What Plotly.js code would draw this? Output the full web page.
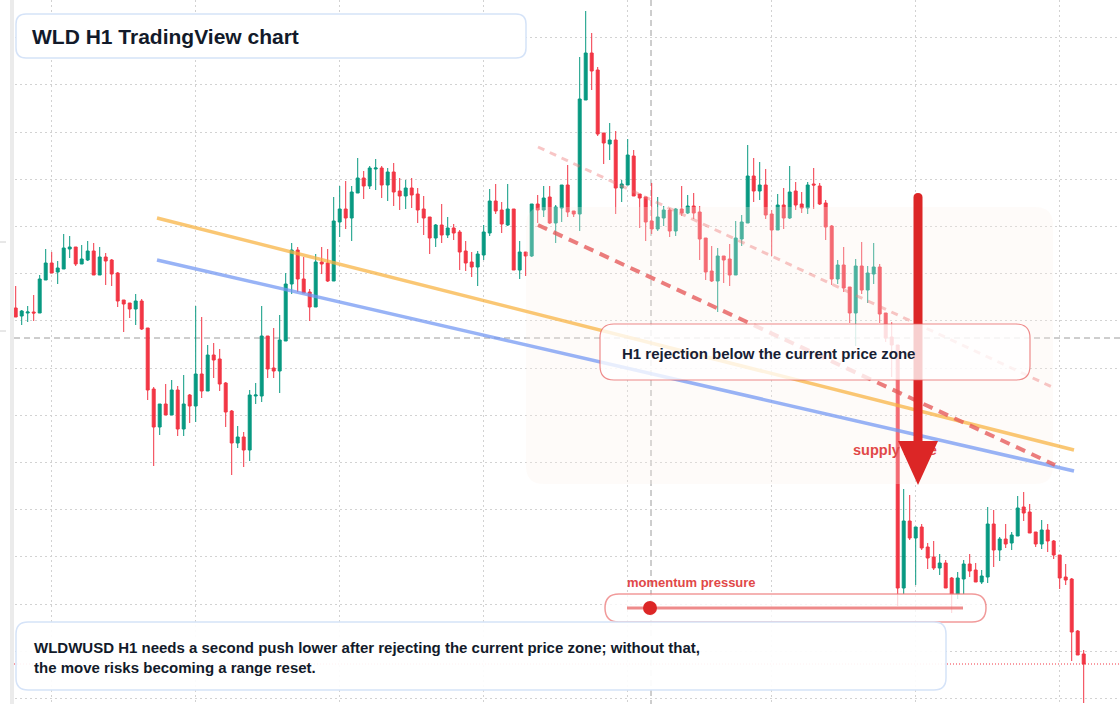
<!DOCTYPE html>
<html>
<head>
<meta charset="utf-8">
<script src="https://cdn.plot.ly/plotly-3.0.1.min.js"></script>
<style>html,body{margin:0;padding:0;background:#fff;}#chart{width:1120px;height:704px;}</style>
</head>
<body>
<div id="chart"></div>
<script>
// ---- WLD H1 candles (price) ----
const open = [
0.5492,0.5484,0.5487,0.5488,0.5487,0.5520,0.5537,0.5528,0.5531,0.5551,
0.5553,0.5536,0.5540,0.5549,0.5525,0.5543,0.5540,0.5527,0.5500,0.5497,
0.5491,0.5499,0.5472,0.5411,0.5373,0.5396,0.5385,0.5410,0.5371,0.5405,
0.5394,0.5426,0.5409,0.5445,0.5441,0.5417,0.5389,0.5357,0.5363,0.5350,
0.5404,0.5404,0.5464,0.5432,0.5429,0.5459,0.5516,0.5550,0.5521,0.5508,
0.5493,0.5538,0.5537,0.5519,0.5578,0.5591,0.5582,0.5607,0.5622,0.5614,
0.5631,0.5632,0.5615,0.5628,0.5609,0.5604,0.5612,0.5606,0.5591,0.5583,
0.5562,0.5575,0.5565,0.5572,0.5568,0.5549,0.5538,0.5533,0.5545,0.5567,
0.5599,0.5590,0.5575,0.5591,0.5530,0.5548,0.5544,0.5596,0.5590,0.5603,
0.5577,0.5592,0.5615,0.5589,0.5586,0.5700,0.5747,0.5730,0.5667,0.5656,
0.5660,0.5612,0.5615,0.5644,0.5606,0.5603,0.5579,0.5571,0.5582,0.5590,
0.5569,0.5591,0.5587,0.5594,0.5588,0.5562,0.5529,0.5519,0.5544,0.5541,
0.5525,0.5561,0.5577,0.5624,0.5609,0.5615,0.5586,0.5570,0.5595,0.5582,
0.5609,0.5596,0.5592,0.5616,0.5614,0.5597,0.5574,0.5521,0.5535,0.5513,
0.5487,0.5534,0.5510,0.5526,0.5533,0.5487,0.5463,0.5455,0.5212,0.5279,
0.5262,0.5273,0.5253,0.5243,0.5232,0.5237,0.5222,0.5206,0.5221,0.5236,
0.5230,0.5218,0.5223,0.5276,0.5250,0.5261,0.5257,0.5264,0.5293,0.5288,
0.5268,0.5256,0.5270,0.5259,0.5245,0.5223,0.5221,0.5169,0.5146];
const high = [
0.5514,0.5490,0.5494,0.5505,0.5525,0.5551,0.5548,0.5539,0.5566,0.5564,
0.5553,0.5555,0.5559,0.5557,0.5553,0.5547,0.5541,0.5528,0.5500,0.5497,
0.5506,0.5501,0.5472,0.5413,0.5396,0.5416,0.5420,0.5414,0.5425,0.5406,
0.5494,0.5483,0.5455,0.5457,0.5451,0.5418,0.5390,0.5374,0.5368,0.5410,
0.5417,0.5494,0.5464,0.5472,0.5485,0.5527,0.5557,0.5553,0.5543,0.5511,
0.5546,0.5553,0.5551,0.5603,0.5614,0.5619,0.5614,0.5642,0.5629,0.5634,
0.5641,0.5634,0.5632,0.5637,0.5622,0.5620,0.5622,0.5612,0.5604,0.5583,
0.5576,0.5596,0.5583,0.5576,0.5570,0.5559,0.5548,0.5549,0.5575,0.5611,
0.5616,0.5598,0.5616,0.5591,0.5559,0.5548,0.5596,0.5605,0.5614,0.5614,
0.5595,0.5615,0.5635,0.5589,0.5743,0.5789,0.5767,0.5733,0.5667,0.5677,
0.5669,0.5620,0.5661,0.5650,0.5606,0.5603,0.5617,0.5603,0.5594,0.5592,
0.5592,0.5614,0.5605,0.5607,0.5594,0.5562,0.5554,0.5552,0.5544,0.5556,
0.5579,0.5585,0.5655,0.5642,0.5638,0.5631,0.5590,0.5606,0.5612,0.5634,
0.5618,0.5608,0.5618,0.5632,0.5617,0.5600,0.5575,0.5540,0.5553,0.5513,
0.5541,0.5558,0.5534,0.5557,0.5536,0.5487,0.5478,0.5455,0.5311,0.5305,
0.5273,0.5276,0.5257,0.5259,0.5246,0.5240,0.5223,0.5228,0.5240,0.5246,
0.5237,0.5230,0.5293,0.5290,0.5263,0.5276,0.5268,0.5304,0.5308,0.5296,
0.5268,0.5280,0.5276,0.5260,0.5245,0.5236,0.5222,0.5170,0.5150];
const low = [
0.5483,0.5475,0.5478,0.5479,0.5487,0.5520,0.5527,0.5516,0.5531,0.5542,
0.5534,0.5536,0.5539,0.5525,0.5525,0.5515,0.5514,0.5493,0.5468,0.5482,
0.5475,0.5470,0.5400,0.5334,0.5365,0.5385,0.5385,0.5364,0.5364,0.5377,
0.5378,0.5402,0.5409,0.5422,0.5409,0.5373,0.5325,0.5352,0.5333,0.5339,
0.5396,0.5398,0.5422,0.5422,0.5407,0.5459,0.5506,0.5508,0.5507,0.5479,
0.5493,0.5526,0.5518,0.5519,0.5563,0.5571,0.5559,0.5607,0.5601,0.5611,
0.5610,0.5602,0.5599,0.5594,0.5590,0.5591,0.5592,0.5577,0.5565,0.5546,
0.5553,0.5557,0.5562,0.5560,0.5530,0.5529,0.5523,0.5514,0.5540,0.5564,
0.5586,0.5567,0.5574,0.5530,0.5521,0.5524,0.5543,0.5577,0.5583,0.5576,
0.5557,0.5578,0.5583,0.5583,0.5569,0.5700,0.5710,0.5664,0.5636,0.5640,
0.5586,0.5598,0.5615,0.5604,0.5572,0.5559,0.5566,0.5569,0.5574,0.5563,
0.5564,0.5584,0.5586,0.5581,0.5540,0.5520,0.5518,0.5488,0.5517,0.5514,
0.5525,0.5554,0.5577,0.5598,0.5600,0.5581,0.5544,0.5570,0.5571,0.5581,
0.5590,0.5587,0.5586,0.5591,0.5595,0.5560,0.5515,0.5516,0.5508,0.5477,
0.5454,0.5506,0.5497,0.5516,0.5477,0.5458,0.5423,0.5194,0.5206,0.5260,
0.5215,0.5250,0.5231,0.5230,0.5225,0.5212,0.5187,0.5201,0.5206,0.5223,
0.5218,0.5216,0.5217,0.5233,0.5239,0.5252,0.5250,0.5264,0.5279,0.5267,
0.5253,0.5251,0.5248,0.5241,0.5211,0.5215,0.5139,0.5145,0.5097];
const close = [
0.5483,0.5489,0.5488,0.5487,0.5521,0.5537,0.5527,0.5532,0.5552,0.5553,
0.5536,0.5541,0.5549,0.5525,0.5543,0.5539,0.5526,0.5499,0.5496,0.5491,
0.5499,0.5471,0.5410,0.5373,0.5396,0.5385,0.5410,0.5371,0.5396,0.5394,
0.5426,0.5409,0.5445,0.5440,0.5416,0.5388,0.5357,0.5363,0.5350,0.5405,
0.5405,0.5464,0.5431,0.5429,0.5460,0.5516,0.5550,0.5521,0.5507,0.5493,
0.5538,0.5536,0.5519,0.5579,0.5591,0.5582,0.5608,0.5622,0.5614,0.5632,
0.5632,0.5615,0.5628,0.5608,0.5604,0.5612,0.5605,0.5590,0.5582,0.5562,
0.5575,0.5565,0.5572,0.5567,0.5548,0.5537,0.5533,0.5546,0.5568,0.5599,
0.5589,0.5576,0.5591,0.5530,0.5548,0.5544,0.5596,0.5590,0.5602,0.5577,
0.5593,0.5615,0.5588,0.5586,0.5701,0.5747,0.5729,0.5666,0.5657,0.5660,
0.5612,0.5616,0.5645,0.5604,0.5602,0.5578,0.5571,0.5583,0.5590,0.5569,
0.5591,0.5587,0.5594,0.5587,0.5561,0.5528,0.5519,0.5544,0.5540,0.5525,
0.5562,0.5578,0.5624,0.5609,0.5615,0.5585,0.5570,0.5595,0.5582,0.5608,
0.5595,0.5592,0.5615,0.5615,0.5596,0.5573,0.5521,0.5535,0.5512,0.5487,
0.5534,0.5510,0.5527,0.5533,0.5486,0.5462,0.5455,0.5212,0.5279,0.5262,
0.5273,0.5252,0.5242,0.5232,0.5237,0.5212,0.5206,0.5222,0.5236,0.5229,
0.5218,0.5224,0.5276,0.5250,0.5261,0.5256,0.5265,0.5292,0.5287,0.5267,
0.5256,0.5270,0.5259,0.5245,0.5222,0.5220,0.5168,0.5145,0.5136];

const lastPrice = 0.5136;
const crosshairPrice = 0.5462;

// text
const titleText = 'WLD H1 TradingView chart';
const rejectionText = 'H1 rejection below the current price zone';
const zoneText = 'supply zone';
const momentumText = 'momentum pressure';
const noteText = 'WLDWUSD H1 needs a second push lower after rejecting the current price zone; without that,<br>the move risks becoming a range reset.';

// hourly time axis
const HOUR = 3600000;
const T0 = Date.UTC(2025, 2, 10, 18);
const times = open.map((_, i) => T0 + i * HOUR);

// ---- layout helpers (pixel -> paper) ----
const W = 1120, H = 704;
const X = p => p / W;
const Y = p => 1 - p / H;
const FONT = 'Liberation Sans, Arial, Helvetica, sans-serif';
function rr(x0, y0, x1, y1, r) {
  const P = (x, y) => X(x).toFixed(6) + ',' + Y(y).toFixed(6);
  return 'M' + P(x0 + r, y0) + ' L' + P(x1 - r, y0) + ' Q' + P(x1, y0) + ' ' + P(x1, y0 + r) +
    ' L' + P(x1, y1 - r) + ' Q' + P(x1, y1) + ' ' + P(x1 - r, y1) +
    ' L' + P(x0 + r, y1) + ' Q' + P(x0, y1) + ' ' + P(x0, y1 - r) +
    ' L' + P(x0, y0 + r) + ' Q' + P(x0, y0) + ' ' + P(x0 + r, y0) + ' Z';
}
function pathShape(d, fill, line, layer) {
  return {type: 'path', xref: 'paper', yref: 'paper', path: d, fillcolor: fill,
    line: line || {width: 0}, layer: layer || 'above'};
}
function lineShape(x0, y0, x1, y1, color, width, dash, layer) {
  return {type: 'line', xref: 'paper', yref: 'paper', x0: X(x0), y0: Y(y0), x1: X(x1), y1: Y(y1),
    line: {color: color, width: width, dash: dash || 'solid'}, layer: layer || 'above'};
}

const trace = {
  type: 'candlestick',
  x: times, open: open, high: high, low: low, close: close,
  increasing: {line: {color: '#089981', width: 1}, fillcolor: '#089981'},
  decreasing: {line: {color: '#f23645', width: 1}, fillcolor: '#f23645'},
  whiskerwidth: 0,
  hoverinfo: 'skip',
  showlegend: false
};

const shapes = [
  // crosshair and price line (under candles)
  {type: 'line', xref: 'paper', yref: 'y', x0: X(14), x1: 1, y0: crosshairPrice, y1: crosshairPrice,
    line: {color: '#9c9c9c', width: 1, dash: '6px,4px'}, layer: 'below'},
  lineShape(651, 0, 651, 704, '#9c9c9c', 1, '6px,4px', 'below'),
  {type: 'line', xref: 'paper', yref: 'y', x0: X(14), x1: 1, y0: lastPrice, y1: lastPrice,
    line: {color: '#f23645', width: 1, dash: '1px,2px'}, layer: 'below'},
  // supply zone tint
  pathShape(rr(526, 207, 1053, 484, 18), 'rgba(252,240,232,0.28)'),
  // trend lines
  lineShape(157, 218, 1074, 450, 'rgba(248,178,62,0.72)', 3.5),
  lineShape(157, 260, 1074, 471, 'rgba(112,150,242,0.72)', 3.5),
  lineShape(538, 147, 1052, 387, 'rgba(238,120,120,0.42)', 3, '7px,6px'),
  lineShape(538, 225, 1055, 465, 'rgba(230,88,88,0.78)', 4, '10px,7px'),
  // supply zone label (under the arrow head)
  {type: 'rect', xref: 'paper', yref: 'paper', x0: X(850), x1: X(945), y0: Y(457), y1: Y(439),
    line: {width: 0}, fillcolor: 'rgba(0,0,0,0)', layer: 'above',
    label: {text: zoneText, textposition: 'middle left', padding: 0,
      font: {family: FONT, size: 14.5, color: '#e14848', weight: 700}}},
  // big arrow
  pathShape(rr(913.5, 193, 922.5, 452, 4.5), '#dc2626'),
  pathShape('M' + X(898) + ',' + Y(441) + ' L' + X(938) + ',' + Y(441) + ' L' + X(918) + ',' + Y(485) + ' Z', '#dc2626'),
  // rejection box
  pathShape(rr(600, 324, 1030, 380, 14), 'rgba(255,255,255,0.78)', {color: 'rgba(232,100,100,0.75)', width: 1.2}),
  // momentum pill
  pathShape(rr(605, 594, 986, 622, 14), 'rgba(255,255,255,0.78)', {color: 'rgba(236,120,120,0.75)', width: 1.5}),
  lineShape(627, 608, 963, 608, 'rgba(234,110,110,0.8)', 3),
  {type: 'circle', xref: 'paper', yref: 'paper', x0: X(643), x1: X(657), y0: Y(615), y1: Y(601),
    fillcolor: '#dc2626', line: {width: 0}, layer: 'above'},
  // title and note boxes
  pathShape(rr(16, 14, 526, 58, 10), '#ffffff', {color: '#d5e3f8', width: 1.5}),
  pathShape(rr(16, 622, 946, 690, 12), 'rgba(255,255,255,0.93)', {color: '#d5e3f8', width: 1.5}),
  // left edge
  {type: 'rect', xref: 'paper', yref: 'paper', x0: 0, x1: X(10), y0: 0, y1: 1, fillcolor: '#ffffff', line: {width: 0}, layer: 'above'},
  {type: 'rect', xref: 'paper', yref: 'paper', x0: X(10), x1: X(14), y0: 0, y1: 1, fillcolor: '#ebebeb', line: {width: 0}, layer: 'above'},
  lineShape(0, 242, 6, 242, '#d0d0d0', 1),
  lineShape(0, 331, 6, 331, '#d0d0d0', 1)
];

const annotations = [
  {xref: 'paper', yref: 'paper', x: X(30), y: Y(36), xanchor: 'left', yanchor: 'middle', showarrow: false,
    text: titleText, font: {family: FONT, size: 21, color: '#121a2a', weight: 700}},
  {xref: 'paper', yref: 'paper', x: X(620), y: Y(353), xanchor: 'left', yanchor: 'middle', showarrow: false,
    text: rejectionText, font: {family: FONT, size: 15, color: '#172033', weight: 700}},
  {xref: 'paper', yref: 'paper', x: X(625), y: Y(582), xanchor: 'left', yanchor: 'middle', showarrow: false,
    text: momentumText, font: {family: FONT, size: 13, color: '#e14848', weight: 700}},
  {xref: 'paper', yref: 'paper', x: X(32), y: Y(657), xanchor: 'left', yanchor: 'middle', showarrow: false, align: 'left',
    text: noteText, font: {family: FONT, size: 15, color: '#121a2a', weight: 700}}
];

const layout = {
  width: W, height: H,
  margin: {l: 0, r: 0, t: 0, b: 0, pad: 0},
  paper_bgcolor: '#ffffff', plot_bgcolor: '#ffffff',
  showlegend: false,
  xaxis: {type: 'date', range: [T0 - 2.6167 * HOUR, T0 + 184.05 * HOUR],
    showgrid: true, gridcolor: '#d2d2d2', griddash: '2px,3px', gridwidth: 1,
    tick0: T0 + 6 * HOUR, dtick: 86400000, showticklabels: false, ticks: '',
    zeroline: false, showline: false, rangeslider: {visible: false}, fixedrange: true},
  yaxis: {range: [0.5096, 0.58], showgrid: true, gridcolor: '#d2d2d2', griddash: '2px,3px', gridwidth: 1,
    tick0: 0.57624, dtick: 0.00472, showticklabels: false, ticks: '', zeroline: false, showline: false, fixedrange: true},
  shapes: shapes,
  annotations: annotations
};

Plotly.newPlot('chart', [trace], layout, {staticPlot: true, displayModeBar: false});
</script>
</body>
</html>
